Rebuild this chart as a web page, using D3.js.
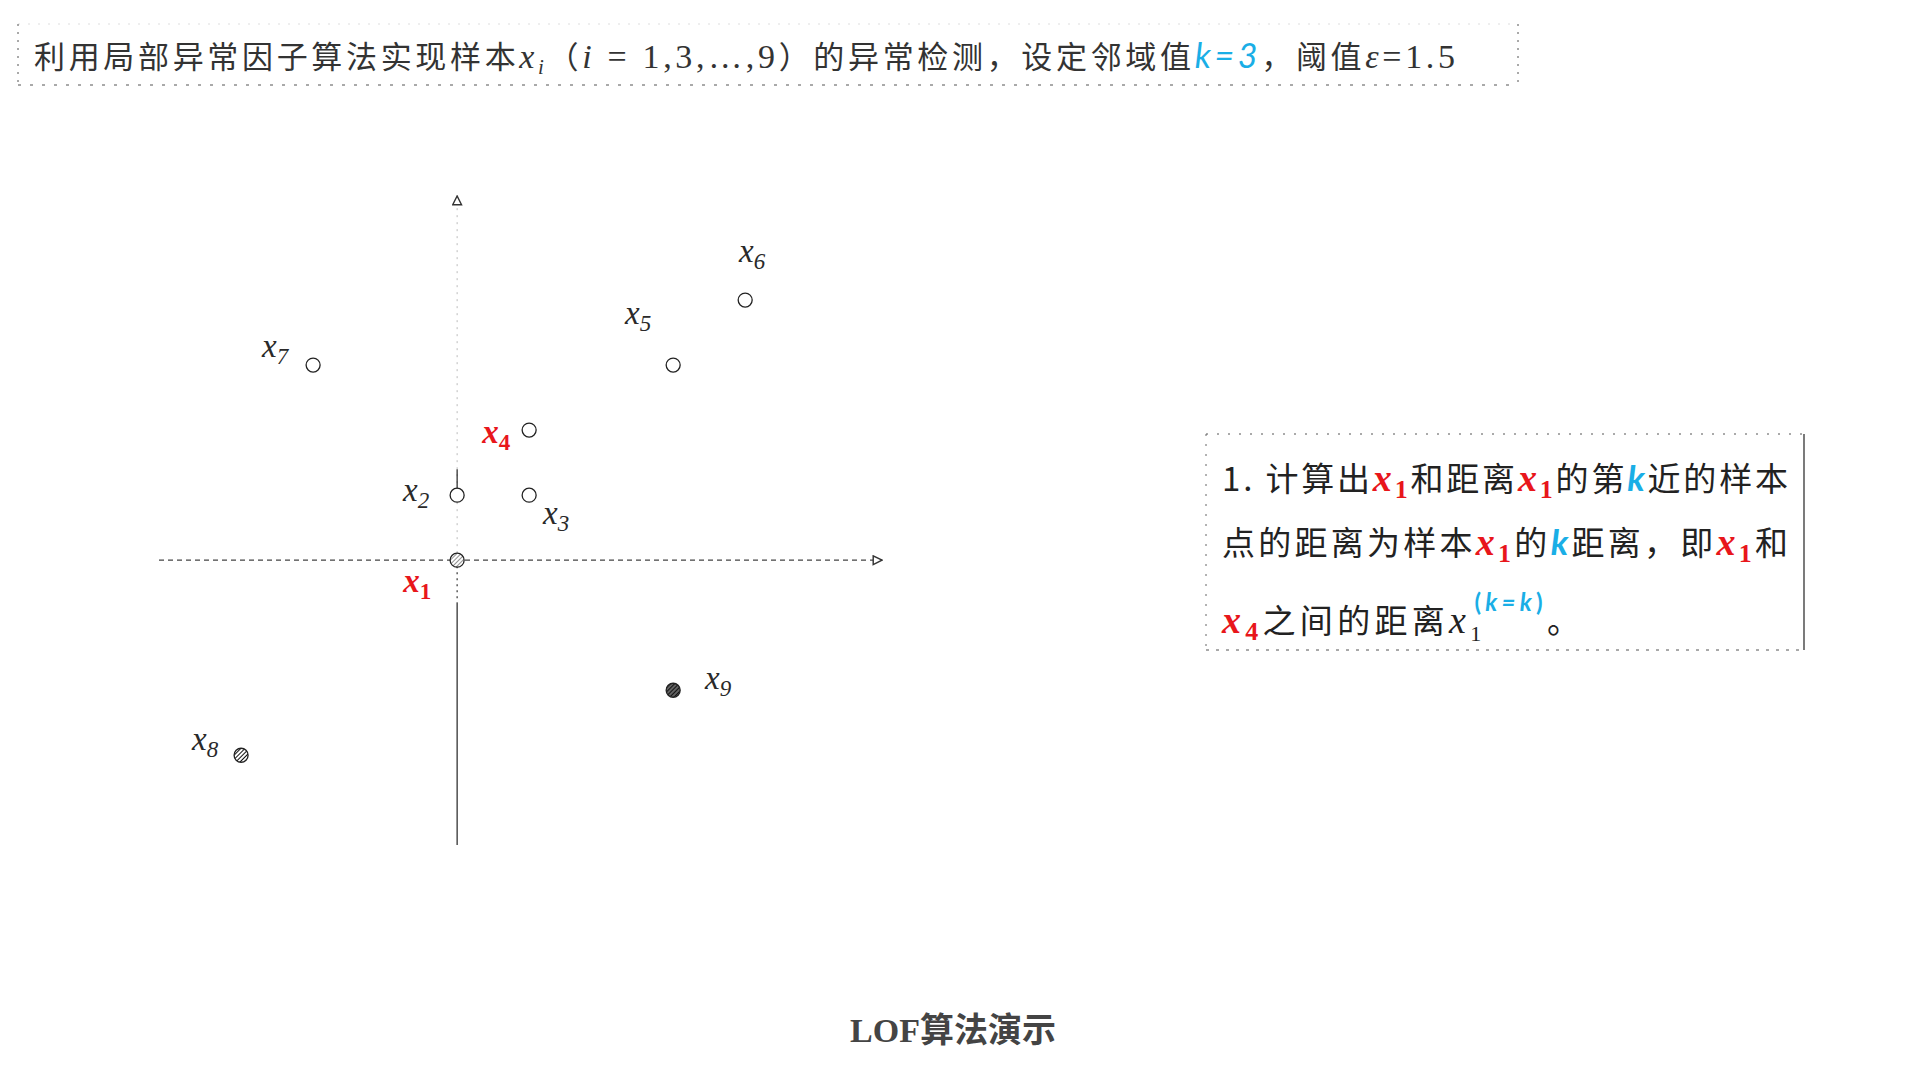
<!DOCTYPE html>
<html><head><meta charset="utf-8">
<script src="https://cdn.jsdelivr.net/npm/d3@7"></script>
<style>body{margin:0;background:#fff;overflow:hidden}</style>
</head><body>
<svg id="c" width="1920" height="1080"></svg>
<script>
// ---------- data ----------
const pointIds   = [1, 2, 3, 4, 5, 6, 7, 8, 9];
const xValues    = [0, 0, 1, 1, 3, 4, -2, -3, 3];
const yValues    = [0, 1, 1, 2, 3, 4, 3, -3, -2];
const highlighted = [true, false, false, true, false, false, false, false, false];
const markerKind = ["light", "open", "open", "open", "open", "open", "open", "dark", "dark2"];
const xDomain = [-4.14, 5.9];
const yDomain = [-4.38, 5.6];

// ---------- layout ----------
const labelDx = [-40, -41, 27, -33, -35, 7, -38, -36, 45];
const labelDy = [27, 1, 24, 8, -46, -43, -13, -10, -6];
const RED = "#e8161b", BLUE = "#1aaee6", INK = "#2a2a2a";

const svg = d3.select("#c");
const defs = svg.append("defs");
const mk = (id) => defs.append("marker").attr("id", id).attr("viewBox", "0 0 10 10")
  .attr("refX", 9).attr("refY", 5).attr("markerWidth", 11).attr("markerHeight", 11)
  .attr("markerUnits", "userSpaceOnUse").attr("orient", "auto")
  .append("path").attr("d", "M1,1 L9,5 L1,9 Z").attr("fill", "#fff").attr("stroke", "#333").attr("stroke-width", 1.3);
mk("arr");
const hatch = (id, color, w, bg) => {
  const p = defs.append("pattern").attr("id", id).attr("patternUnits", "userSpaceOnUse")
    .attr("width", 3).attr("height", 3).attr("patternTransform", "rotate(45)");
  p.append("rect").attr("width", 3).attr("height", 3).attr("fill", bg);
  p.append("line").attr("x1", 0).attr("y1", 0).attr("x2", 0).attr("y2", 3).attr("stroke", color).attr("stroke-width", w);
};
hatch("hl", "#555", 1.3, "#fff");
hatch("hd", "#111", 2, "#fff");
hatch("hd2", "#111", 2.2, "#666");

const x = d3.scaleLinear().domain(xDomain).range([159, 882]);
const y = d3.scaleLinear().domain(yDomain).range([845, 196]);

// ---------- axes ----------
const ax = svg.append("g");
ax.append("line").attr("x1", x(xDomain[0])).attr("x2", x(xDomain[1]))
  .attr("y1", y(0)).attr("y2", y(0))
  .attr("stroke", "#444").attr("stroke-width", 1.2).attr("stroke-dasharray", "5,4")
  .attr("marker-end", "url(#arr)");
ax.append("line").attr("x1", x(0)).attr("x2", x(0)).attr("y1", y(0)).attr("y2", y(yDomain[1]))
  .attr("stroke", "#bbb").attr("stroke-width", 1).attr("stroke-dasharray", "2,5")
  .attr("marker-end", "url(#arr)");
ax.append("line").attr("x1", x(0)).attr("x2", x(0)).attr("y1", y(1) - 4).attr("y2", y(1.4))
  .attr("stroke", "#222").attr("stroke-width", 1.2);
ax.append("line").attr("x1", x(0)).attr("x2", x(0)).attr("y1", y(0)).attr("y2", y(-0.65))
  .attr("stroke", "#333").attr("stroke-width", 1.2).attr("stroke-dasharray", "2,4");
ax.append("line").attr("x1", x(0)).attr("x2", x(0)).attr("y1", y(-0.65)).attr("y2", y(yDomain[0]))
  .attr("stroke", "#222").attr("stroke-width", 1.2);

// ---------- points ----------
const pts = pointIds.map((id, i) => ({id, xv: xValues[i], yv: yValues[i], hi: highlighted[i], kind: markerKind[i], dx: labelDx[i], dy: labelDy[i]}));
const fillOf = k => k === "open" ? "#fff" : k === "light" ? "url(#hl)" : k === "dark" ? "url(#hd)" : "url(#hd2)";
svg.append("g").selectAll("circle").data(pts).join("circle")
  .attr("cx", d => x(d.xv)).attr("cy", d => y(d.yv)).attr("r", 7)
  .attr("fill", d => fillOf(d.kind)).attr("stroke", "#222").attr("stroke-width", 1.3);

const lab = svg.append("g").selectAll("text").data(pts).join("text")
  .attr("x", d => x(d.xv) + d.dx).attr("y", d => y(d.yv) + d.dy + 5)
  .attr("text-anchor", "middle")
  .attr("font-family", "'Liberation Serif', serif")
  .attr("font-style", "italic")
  .attr("font-weight", d => d.hi ? "bold" : "normal")
  .attr("fill", d => d.hi ? RED : INK);
lab.append("tspan").attr("font-size", 33).text("x");
lab.append("tspan").attr("font-size", 23).attr("dy", 7)
  .attr("font-style", d => d.hi ? "normal" : "italic").text(d => d.id);

// ---------- title ----------
const tb = svg.append("g");
tb.append("line").attr("x1", 18).attr("x2", 1518).attr("y1", 24).attr("y2", 24).attr("stroke", "#ddd").attr("stroke-dasharray", "2,8");
tb.append("line").attr("x1", 18).attr("x2", 1518).attr("y1", 85).attr("y2", 85).attr("stroke", "#555").attr("stroke-dasharray", "3,9");
tb.append("line").attr("x1", 18).attr("x2", 18).attr("y1", 24).attr("y2", 85).attr("stroke", "#555").attr("stroke-dasharray", "2,6");
tb.append("line").attr("x1", 1518).attr("x2", 1518).attr("y1", 24).attr("y2", 85).attr("stroke", "#555").attr("stroke-dasharray", "2,6");

const CJK = "'Noto Sans CJK SC', sans-serif", SERIF = "'Liberation Serif', serif";
const title = tb.append("text").attr("x", 34).attr("y", 68).attr("font-size", 31)
  .attr("fill", "#333").attr("font-family", CJK)
  .attr("textLength", 1421).attr("lengthAdjust", "spacing");
title.append("tspan").text("利用局部异常因子算法实现样本");
title.append("tspan").attr("font-family", SERIF).attr("font-style", "italic").attr("font-size", 34).text("x");
title.append("tspan").attr("font-family", SERIF).attr("font-style", "italic").attr("font-size", 21).attr("dy", 6).text("i");
title.append("tspan").attr("dy", -6).text("（");
title.append("tspan").attr("font-family", SERIF).attr("font-style", "italic").attr("font-size", 34).text("i");
title.append("tspan").attr("font-family", SERIF).attr("font-size", 34).text(" = 1,3,…,9");
title.append("tspan").text("）的异常检测，设定邻域值");
title.append("tspan").attr("font-family", "Lato, sans-serif").attr("font-style", "italic").attr("font-size", 34).attr("fill", BLUE).text("k=3");
title.append("tspan").text("，阈值");
title.append("tspan").attr("font-family", SERIF).attr("font-style", "italic").attr("font-size", 34).text("ε");
title.append("tspan").attr("font-family", SERIF).attr("font-size", 34).text("=1.5");

// ---------- explanation box ----------
const bx = svg.append("g");
bx.append("line").attr("x1", 1206).attr("x2", 1804).attr("y1", 434).attr("y2", 434).attr("stroke", "#555").attr("stroke-dasharray", "2,9");
bx.append("line").attr("x1", 1206).attr("x2", 1804).attr("y1", 650).attr("y2", 650).attr("stroke", "#555").attr("stroke-dasharray", "3,7");
bx.append("line").attr("x1", 1206).attr("x2", 1206).attr("y1", 434).attr("y2", 650).attr("stroke", "#666").attr("stroke-dasharray", "2,8");
bx.append("line").attr("x1", 1804).attr("x2", 1804).attr("y1", 434).attr("y2", 650).attr("stroke", "#333").attr("stroke-width", 1.3);

const lines = [
  {y: 491, len: 566, parts: [["t","1. 计算出"],["x","1"],["t","和距离"],["x","1"],["t","的第"],["k"],["t","近的样本"]]},
  {y: 555, len: 566, parts: [["t","点的距离为样本"],["x","1"],["t","的"],["k"],["t","距离，即"],["x","1"],["t","和"]]},
  {y: 633, len: 358, parts: [["x","4"],["t","之间的距离"],["xs","1"],["t","。"]]}
];
lines.forEach(L => {
  const t = bx.append("text").attr("x", 1222).attr("y", L.y).attr("font-size", 33)
    .attr("font-family", CJK).attr("fill", "#222")
    .attr("textLength", L.len).attr("lengthAdjust", "spacing");
  let pend = 0;
  const add = () => { const s = t.append("tspan"); if (pend) { s.attr("dy", pend); pend = 0; } return s; };
  L.parts.forEach(p => {
    if (p[0] === "t") add().text(p[1]);
    else if (p[0] === "x") {
      add().attr("font-family", SERIF).attr("font-style", "italic").attr("font-weight", "bold").attr("font-size", 38).attr("fill", RED).text("x");
      t.append("tspan").attr("font-family", SERIF).attr("font-weight", "bold").attr("font-size", 26).attr("fill", RED).attr("dy", 7).text(p[1]);
      pend = -7;
    } else if (p[0] === "k") {
      add().attr("font-family", "Lato, sans-serif").attr("font-style", "italic").attr("font-weight", "bold").attr("font-size", 35).attr("fill", BLUE).text("k");
    } else if (p[0] === "xs") {
      add().attr("font-family", SERIF).attr("font-style", "italic").attr("font-size", 38).attr("fill", "#222").text("x");
      t.append("tspan").attr("font-family", SERIF).attr("font-size", 22).attr("fill", "#222").attr("dy", 8).text(p[1]);
      t.append("tspan").attr("font-family", "Lato, sans-serif").attr("font-size", 24).attr("font-weight", "bold").attr("fill", BLUE).attr("dx", -11).attr("dy", -30).text("(");
      t.append("tspan").attr("font-family", "Lato, sans-serif").attr("font-size", 24).attr("font-style", "italic").attr("font-weight", "bold").attr("fill", BLUE).text("k=k");
      t.append("tspan").attr("font-family", "Lato, sans-serif").attr("font-size", 24).attr("font-weight", "bold").attr("fill", BLUE).text(")");
      pend = 22;
    }
  });
});

// ---------- caption ----------
const cap = svg.append("text").attr("x", 953).attr("y", 1042).attr("text-anchor", "middle")
  .attr("font-size", 34).attr("font-weight", "bold").attr("fill", "#444");
cap.append("tspan").attr("font-family", SERIF).text("LOF");
cap.append("tspan").attr("font-family", CJK).text("算法演示");
</script>
</body></html>
